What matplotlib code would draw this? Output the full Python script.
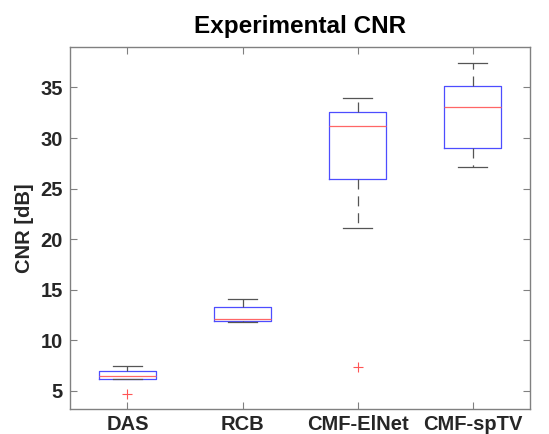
import matplotlib
matplotlib.use("Agg")
import matplotlib.pyplot as plt

plt.rcParams['font.family'] = ['Liberation Sans', 'DejaVu Sans']

# Valores (dB)
metodos = ['DAS', 'RCB', 'CMF-ElNet', 'CMF-spTV']
medianas = [6.5, 12.1, 31.2, 33.05]
q1 = [6.16, 11.9, 25.9, 29.0]
q3 = [6.95, 13.3, 32.55, 35.13]
bigote_inf = [6.12, 11.8, 21.14, 27.1]
bigote_sup = [7.45, 14.03, 34.0, 37.37]
atipicos = [[4.67], [], [7.31], []]

stats = []
for i, nombre in enumerate(metodos):
    stats.append({
        'label': nombre, 'med': medianas[i], 'q1': q1[i], 'q3': q3[i],
        'whislo': bigote_inf[i], 'whishi': bigote_sup[i], 'fliers': atipicos[i],
    })

fig = plt.figure(figsize=(5.49, 4.34), dpi=100)
ax = fig.add_axes([0.1275, 0.0576, 0.8379, 0.8341])

ax.bxp(stats, positions=[1, 2, 3, 4], widths=0.5,
       boxprops=dict(color='#4d4dff', linewidth=0.9),
       medianprops=dict(color='#ff6666', linewidth=0.9),
       whiskerprops=dict(color='#555555', linewidth=0.9, linestyle=(0, (8, 5.5))),
       capprops=dict(color='#555555', linewidth=0.9),
       flierprops=dict(marker='+', markeredgecolor='#ff5555', markersize=7,
                       markeredgewidth=0.8, linestyle='none'))

ax.set_xlim(0.5, 4.5)
ax.set_ylim(3.2, 39.0)
ax.set_yticks([5, 10, 15, 20, 25, 30, 35])
ax.set_xticks([1, 2, 3, 4])
ax.set_xticklabels(metodos)

for s in ax.spines.values():
    s.set_color('#808080')
    s.set_linewidth(1.0)
ax.tick_params(direction='in', top=True, right=True, length=5, color='#808080',
               labelsize=14.5, labelcolor='#262626', pad=5)
ax.tick_params(axis='x', pad=4)
for t in ax.get_xticklabels() + ax.get_yticklabels():
    t.set_fontweight('bold')

ax.set_ylabel('CNR [dB]', fontsize=14.5, fontweight='bold', color='#262626', labelpad=5)
ax.set_title('Experimental CNR', fontsize=17.5, fontweight='bold', color='black', pad=10)

fig.savefig('out.png', dpi=100)
